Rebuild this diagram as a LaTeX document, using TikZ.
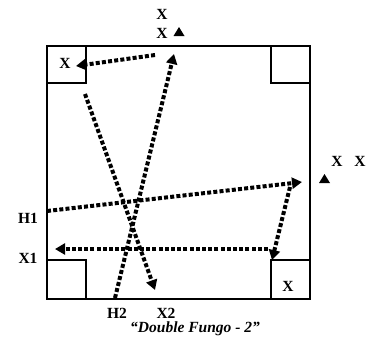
\documentclass[tikz,border=0pt]{standalone}
\usepackage{fontspec}
\setmainfont{Liberation Serif}
\usetikzlibrary{arrows.meta}
\tikzset{
  field/.style={draw, line width=1.4pt},
  cornerbox/.style={draw, line width=1.2pt},
  lbl/.style={font=\fontsize{15.5}{17}\selectfont\bfseries, inner sep=0pt},
  captext/.style={font=\fontsize{15.5}{17}\selectfont\bfseries\itshape, inner sep=0pt},
  run/.style={line width=4pt, dash pattern=on 4pt off 2.2pt, -{Triangle[length=10pt,width=11pt]}},
}
\begin{document}
\begin{tikzpicture}[x=1pt, y=-1pt]
\useasboundingbox (0,0) rectangle (377,343);
% field
\draw[field] (47,46) rectangle (310,299);
\draw[cornerbox] (47,46) rectangle (86,83);
\draw[cornerbox] (271,46) rectangle (310,83);
\draw[cornerbox] (47,260) rectangle (86,299);
\draw[cornerbox] (271,260) rectangle (310,299);
% labels
\node[lbl] (xt1) at (162,14) {X};
\node[lbl] (xt2) at (162,33) {X};
\node[lbl] (xtl) at (65,63) {X};
\node[lbl] (xr1) at (337,161) {X};
\node[lbl] (xr2) at (360,161) {X};
\node[lbl] (h1) at (28,218) {H1};
\node[lbl] (x1) at (28,258) {X1};
\node[lbl] (xbr) at (288,286) {X};
\node[lbl] (h2) at (117,313) {H2};
\node[lbl] (x2) at (166,313) {X2};
\node[captext] (caption) at (195,329) {“Double Fungo - 2”};
% triangles (cones)
\fill (173.5,36) -- (184.5,36) -- (179,27) -- cycle;
\fill (319,183) -- (330,183) -- (324.5,174) -- cycle;
% coordinates
\coordinate (a1s) at (155,55);
\coordinate (a1e) at (76,66);
\coordinate (a2s) at (115,298);
\coordinate (a2e) at (174,54);
\coordinate (a3s) at (85,94);
\coordinate (a3e) at (155,290);
\coordinate (a4s) at (47,211);
\coordinate (a4e) at (302,182);
\coordinate (a5s) at (290,187);
\coordinate (a5e) at (272,260);
\coordinate (a6s) at (268,249);
\coordinate (a6e) at (55,249);
% runs
\draw[run] (a1s) -- (a1e);
\draw[run] (a2s) -- (a2e);
\draw[run] (a3s) -- (a3e);
\draw[run] (a4s) -- (a4e);
\draw[run] (a5s) -- (a5e);
\draw[run] (a6s) -- (a6e);
\end{tikzpicture}
\end{document}
